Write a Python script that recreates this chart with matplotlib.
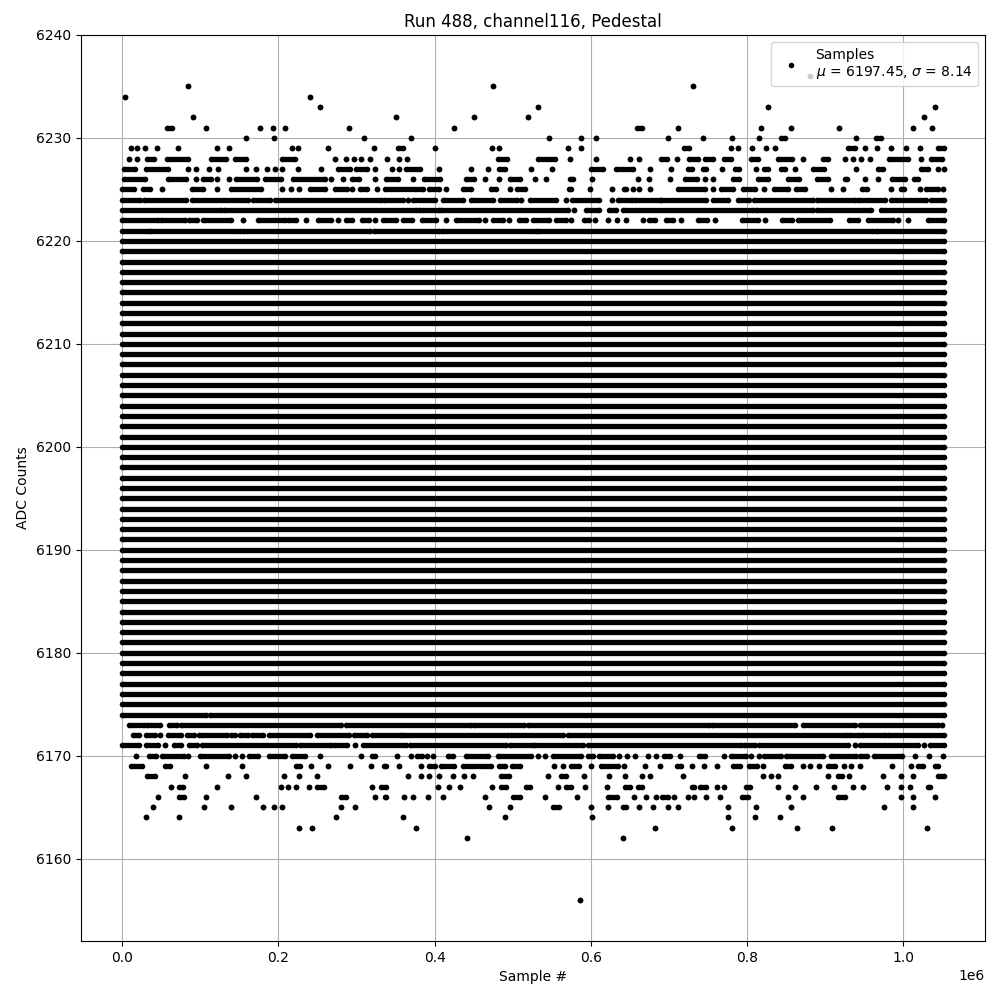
import matplotlib
matplotlib.use("Agg")
import matplotlib.pyplot as plt
import numpy as np

# ---- data (x in thousands of samples; each entry = run of consecutive samples at that ADC level) ----
title = "Run 488, channel116, Pedestal"
legend_label = "Samples\n$\\mu$ = 6197.45, $\\sigma$ = 8.14"

# levels that are filled across the whole run
dense_levels = list(range(6175, 6221))
dense_span = (0, 1052)

seg_6236 = [(880, 880)]
seg_6235 = [(85, 85), (475, 475), (731, 731)]
seg_6234 = [(4, 4), (240, 240)]
seg_6233 = [(253, 253), (532, 532), (827, 827), (1040, 1040)]
seg_6232 = [(91, 91), (350, 350), (451, 451), (520, 520), (1027, 1027)]
seg_6231 = [(58, 64), (108, 108), (177, 177), (193, 193), (209, 209), (290, 290), (425, 425),
            (659, 665), (712, 712), (818, 818), (856, 856), (918, 918), (1012, 1012), (1037, 1037)]
seg_6230 = [(159, 159), (195, 195), (310, 310), (370, 370), (547, 547), (588, 588), (607, 607),
            (699, 699), (744, 744), (781, 781), (815, 815), (843, 849), (939, 939), (965, 971)]
seg_6229 = [(11, 11), (19, 19), (29, 29), (45, 45), (72, 72), (121, 121), (137, 137), (217, 217),
            (225, 225), (264, 264), (323, 323), (353, 359), (400, 400), (473, 473), (483, 483),
            (571, 571), (588, 588), (719, 726), (780, 780), (789, 789), (806, 806), (824, 824),
            (836, 836), (929, 938), (951, 951), (966, 966), (984, 984), (1003, 1003), (1022, 1022),
            (1044, 1052)]
seg_6228 = [(9, 9), (19, 19), (32, 41), (58, 85), (114, 133), (144, 159), (205, 221), (273, 273),
            (287, 287), (297, 297), (306, 306), (317, 317), (339, 339), (355, 355), (365, 365),
            (481, 493), (532, 554), (573, 573), (607, 607), (650, 650), (662, 662), (690, 697),
            (710, 710), (726, 737), (746, 756), (771, 780), (805, 814), (840, 857), (872, 872),
            (897, 904), (925, 925), (936, 936), (946, 946), (957, 957), (982, 1006), (1023, 1023),
            (1035, 1049)]
seg_6227 = [(2, 16), (30, 59), (84, 84), (95, 95), (111, 111), (123, 123), (159, 159), (171, 171),
            (185, 185), (196, 196), (205, 205), (225, 225), (254, 254), (277, 292), (300, 314),
            (324, 324), (346, 346), (354, 354), (364, 381), (406, 406), (447, 447), (468, 468),
            (483, 490), (523, 523), (550, 550), (600, 615), (632, 654), (676, 676), (703, 703),
            (724, 729), (744, 748), (768, 768), (784, 790), (811, 811), (822, 827), (844, 848),
            (861, 861), (884, 899), (939, 939), (968, 974), (1023, 1032), (1044, 1044), (1052, 1052)]
seg_6226 = [(3, 29), (59, 82), (94, 94), (103, 114), (122, 122), (137, 137), (146, 173), (183, 204),
            (219, 260), (267, 267), (283, 283), (294, 303), (324, 324), (338, 353), (373, 373),
            (387, 407), (440, 450), (465, 465), (483, 483), (497, 509), (528, 528), (543, 543),
            (573, 577), (601, 601), (660, 660), (674, 674), (702, 702), (721, 736), (746, 746),
            (756, 756), (782, 790), (814, 827), (852, 867), (889, 904), (925, 928), (951, 951),
            (968, 968), (985, 1002), (1014, 1019)]
seg_6225 = [(0, 15), (27, 36), (51, 51), (89, 104), (121, 121), (140, 178), (205, 205), (216, 216),
            (227, 227), (241, 260), (272, 288), (294, 294), (304, 314), (326, 326), (337, 385),
            (393, 406), (414, 414), (436, 447), (472, 479), (497, 497), (505, 516), (572, 575),
            (599, 599), (627, 627), (642, 645), (654, 654), (662, 662), (676, 676), (712, 746),
            (756, 756), (767, 782), (795, 810), (822, 822), (835, 852), (863, 874), (907, 907),
            (923, 923), (947, 954), (984, 984), (997, 1001), (1021, 1021), (1029, 1044), (1051, 1051)]
seg_6224 = [(0, 23), (28, 82), (89, 161), (167, 189), (196, 332), (335, 359), (366, 366), (373, 401),
            (411, 437), (446, 475), (484, 505), (511, 511), (522, 555), (568, 568), (576, 611),
            (627, 627), (635, 653), (657, 688), (690, 748), (756, 776), (788, 802), (809, 884),
            (890, 938), (942, 977), (984, 1029), (1036, 1052)]
seg_6223 = [(0, 126), (130, 376), (380, 406), (408, 571), (579, 579), (594, 611), (623, 632),
            (641, 808), (812, 884), (889, 959), (971, 1052)]
seg_6222 = [(0, 46), (50, 80), (86, 96), (103, 140), (155, 155), (174, 208), (213, 222), (235, 235),
            (251, 268), (277, 277), (286, 294), (307, 316), (324, 324), (334, 350), (360, 371),
            (384, 402), (415, 415), (427, 457), (464, 464), (475, 488), (495, 495), (508, 517),
            (526, 547), (555, 568), (575, 575), (591, 598), (606, 606), (622, 622), (633, 633),
            (645, 645), (667, 667), (675, 682), (696, 705), (716, 716), (737, 749), (759, 759),
            (793, 814), (823, 823), (845, 857), (865, 906), (931, 942), (955, 987), (993, 993),
            (1006, 1006), (1031, 1052)]
seg_6221 = [(0, 33), (36, 151), (155, 317), (322, 406), (410, 530), (532, 961), (965, 1052)]

seg_6174 = [(0, 108), (113, 1052)]
seg_6173 = [(9, 28), (32, 48), (60, 70), (76, 280), (286, 447), (451, 514), (519, 751), (755, 862),
            (871, 938), (945, 1044), (1050, 1050)]
seg_6172 = [(14, 22), (31, 42), (49, 49), (59, 76), (83, 92), (98, 134), (139, 145), (151, 161),
            (166, 181), (188, 241), (250, 290), (297, 314), (320, 357), (360, 494), (498, 564),
            (571, 927), (931, 943), (947, 977), (981, 1052)]
seg_6171 = [(0, 22), (30, 46), (55, 55), (67, 76), (86, 96), (102, 222), (228, 267), (271, 288),
            (298, 298), (309, 364), (369, 492), (497, 526), (529, 590), (596, 792), (796, 810),
            (815, 929), (938, 938), (944, 1019), (1026, 1026), (1034, 1052)]
seg_6170 = [(18, 18), (35, 44), (51, 79), (85, 85), (100, 137), (144, 144), (154, 154), (162, 174),
            (188, 208), (217, 234), (253, 253), (306, 306), (320, 324), (352, 352), (370, 370),
            (377, 384), (390, 390), (398, 398), (417, 423), (440, 468), (481, 524), (532, 532),
            (541, 541), (551, 588), (596, 603), (611, 628), (636, 636), (646, 646), (657, 657),
            (673, 673), (684, 684), (694, 701), (714, 714), (739, 746), (770, 770), (779, 799),
            (805, 805), (815, 815), (822, 844), (850, 897), (908, 940), (945, 953), (962, 998),
            (1015, 1015), (1033, 1033), (1051, 1051)]
seg_6169 = [(11, 25), (55, 61), (107, 107), (153, 153), (222, 228), (242, 242), (263, 263),
            (292, 292), (319, 319), (335, 338), (355, 355), (382, 382), (393, 401), (408, 425),
            (436, 472), (483, 490), (499, 509), (553, 553), (564, 564), (575, 585), (600, 600),
            (613, 635), (643, 643), (670, 670), (688, 688), (710, 716), (729, 729), (745, 745),
            (762, 762), (782, 791), (803, 813), (821, 821), (848, 856), (872, 872), (881, 881),
            (892, 892), (904, 912), (924, 924), (933, 933), (945, 945), (985, 985), (1010, 1010),
            (1019, 1025), (1040, 1045)]
seg_6168 = [(32, 42), (80, 80), (135, 135), (159, 159), (207, 207), (227, 227), (249, 249),
            (366, 366), (383, 383), (393, 393), (406, 406), (423, 423), (438, 438), (449, 449),
            (485, 495), (545, 545), (562, 568), (591, 591), (623, 623), (644, 644), (665, 665),
            (676, 676), (718, 718), (820, 820), (831, 831), (840, 840), (904, 904), (916, 921),
            (930, 930), (974, 974), (997, 997), (1013, 1013), (1045, 1052)]
seg_6167 = [(62, 62), (73, 78), (122, 122), (203, 203), (212, 212), (222, 222), (239, 239),
            (250, 258), (320, 320), (331, 338), (405, 405), (419, 419), (432, 432), (473, 473),
            (485, 492), (517, 522), (558, 558), (568, 575), (592, 592), (621, 621), (644, 650),
            (660, 665), (729, 732), (740, 748), (761, 761), (771, 771), (799, 804), (840, 840),
            (862, 862), (888, 888), (911, 911), (936, 936), (949, 949), (979, 979), (997, 997),
            (1008, 1008), (1031, 1034)]
seg_6166 = [(46, 46), (73, 79), (108, 108), (171, 171), (280, 287), (324, 324), (336, 338),
            (361, 361), (372, 372), (392, 392), (411, 411), (464, 464), (500, 509), (542, 542),
            (582, 582), (622, 633), (655, 655), (671, 671), (683, 683), (691, 699), (706, 706),
            (724, 724), (732, 732), (748, 748), (765, 765), (793, 801), (852, 852), (872, 872),
            (917, 925), (997, 997), (1012, 1012), (1040, 1040)]
seg_6165 = [(39, 39), (105, 105), (140, 140), (181, 181), (195, 195), (205, 205), (280, 280),
            (298, 298), (470, 470), (496, 496), (551, 559), (600, 600), (622, 622), (641, 645),
            (662, 662), (679, 679), (699, 699), (712, 712), (776, 776), (811, 811), (856, 856),
            (975, 975), (1013, 1013)]
seg_6164 = [(30, 30), (73, 73), (274, 274), (360, 360), (490, 490), (601, 601), (776, 776),
            (810, 810), (842, 842)]
seg_6163 = [(227, 227), (243, 243), (376, 376), (682, 682), (781, 781), (864, 864), (909, 909),
            (1030, 1030)]
seg_6162 = [(442, 442), (641, 641)]
seg_6156 = [(586, 586)]

sparse_levels = {
    6236: seg_6236, 6235: seg_6235, 6234: seg_6234, 6233: seg_6233, 6232: seg_6232,
    6231: seg_6231, 6230: seg_6230, 6229: seg_6229, 6228: seg_6228, 6227: seg_6227,
    6226: seg_6226, 6225: seg_6225, 6224: seg_6224, 6223: seg_6223, 6222: seg_6222,
    6221: seg_6221, 6174: seg_6174, 6173: seg_6173, 6172: seg_6172, 6171: seg_6171,
    6170: seg_6170, 6169: seg_6169, 6168: seg_6168, 6167: seg_6167, 6166: seg_6166,
    6165: seg_6165, 6164: seg_6164, 6163: seg_6163, 6162: seg_6162, 6156: seg_6156,
}

all_levels = {lvl: [dense_span] for lvl in dense_levels}
all_levels.update(sparse_levels)

ys, x0s, x1s = [], [], []
for lvl, segs in all_levels.items():
    for a, b in segs:
        ys.append(lvl)
        x0s.append(a * 1e3)
        x1s.append(b * 1e3)
ys = np.array(ys, dtype=float)
x0s = np.array(x0s)
x1s = np.array(x1s)

fig, ax = plt.subplots(figsize=(10, 10), dpi=100)
fig.subplots_adjust(left=0.081, right=0.985, top=0.965, bottom=0.059)
ax.grid(True)

lc = ax.hlines(ys, x0s, x1s, colors="k", linewidth=3.8, zorder=2)
lc.set_capstyle("butt")
pts_x = np.concatenate([x0s, x1s])
pts_y = np.concatenate([ys, ys])
ax.plot(pts_x, pts_y, "k.", markersize=6, linestyle="none", label=legend_label, zorder=2)

ax.set_ylim(6152, 6240)
ax.set_title(title)
ax.set_xlabel("Sample #")
ax.set_ylabel("ADC Counts")
ax.legend(loc="upper right")
fig.savefig("out.png", dpi=100)
